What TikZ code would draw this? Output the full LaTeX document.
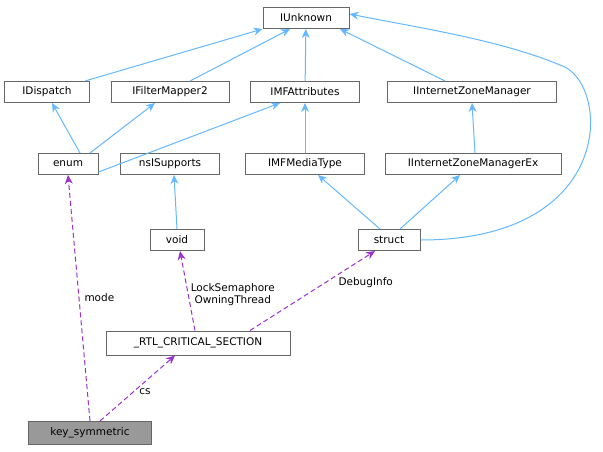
\documentclass[tikz,border=0pt]{standalone}
\usepackage{fontspec}
\setmainfont{DejaVu Sans}
\usetikzlibrary{arrows.meta}
\definecolor{eb}{HTML}{63B8FF}
\definecolor{ep}{HTML}{9A32CD}
\begin{document}
\begin{tikzpicture}[x=1pt,y=-1pt,line width=1pt,
  box/.style={draw=black!60,fill=white,minimum height=21pt,inner sep=0pt,font=\fontsize{10.5}{12}\selectfont},
  inh/.style={draw=eb,-{Stealth[length=9pt,width=8pt]}},
  use/.style={draw=ep,dash pattern=on 5pt off 3pt,-{Stealth[length=9pt,width=8pt]}},
  lab/.style={font=\fontsize{10.5}{12}\selectfont,align=center,inner sep=1pt}]
\useasboundingbox (0,0) rectangle (603,451);
\node[box,minimum width=86pt] (iu) at (306,18) {IUnknown};
\node[box,minimum width=85pt] (idi) at (47,92) {IDispatch};
\node[box,minimum width=118pt] (ifm) at (170,92) {IFilterMapper2};
\node[box,minimum width=109pt] (ima) at (305,92) {IMFAttributes};
\node[box,minimum width=169pt] (izm) at (472,92) {IInternetZoneManager};
\node[box,minimum width=60pt] (en) at (68,164) {enum};
\node[box,minimum width=99pt] (ns) at (170,164) {nsISupports};
\node[box,minimum width=119pt] (imt) at (305,164) {IMFMediaType};
\node[box,minimum width=176pt] (izx) at (473,164) {IInternetZoneManagerEx};
\node[box,minimum width=54pt] (vo) at (177,240) {void};
\node[box,minimum width=62pt] (st) at (389,240) {struct};
\node[box,minimum width=184pt,minimum height=24pt] (rtl) at (198,343) {\_RTL\_CRITICAL\_SECTION};
\node[box,minimum width=123pt,minimum height=23pt,fill=black!40] (ks) at (90,433) {key\_symmetric};
\draw[inh] (idi.north east) ++(-5,0) -- (iu.south west);
\draw[inh] (ifm.north) ++(20,0) -- ([xshift=-16pt]iu.south);
\draw[inh] (ima) -- (iu);
\draw[inh] (izm.north) ++(-27,0) -- ([xshift=34pt]iu.south);
\draw[inh] (st.east) .. controls (620,240) and (610,80) .. (560,65) .. controls (500,40) and (420,28) .. ([yshift=4pt]iu.east);
\draw[inh] ([xshift=12pt]en.north) -- ([xshift=5pt]idi.south);
\draw[inh] ([xshift=22pt]en.north) -- ([xshift=-15pt]ifm.south);
\draw[inh] ([yshift=-8pt]en.east) -- ([xshift=-25pt]ima.south);
\draw[inh] (imt) -- (ima);
\draw[inh] (izx.north) ++(2,0) -- (izm.south);
\draw[inh] (vo.north) -- ([xshift=4pt]ns.south);
\draw[inh] ([xshift=-9pt]st.north) -- ([xshift=13pt]imt.south);
\draw[inh] ([xshift=11pt]st.north) -- ([xshift=-13pt]izx.south);
\draw[use] (ks.north) -- node[lab,pos=0.5,right=4pt]{mode} (en.south);
\draw[use] ([xshift=10pt]ks.north) -- node[lab,pos=0.45,right=4pt]{cs} ([xshift=-23pt]rtl.south);
\draw[use] ([xshift=-3pt]rtl.north) -- node[lab,pos=0.45,right=1pt]{LockSemaphore\\OwningThread} ([xshift=3pt]vo.south);
\draw[use] ([xshift=52pt]rtl.north) -- node[lab,pos=0.6,right=12pt]{DebugInfo} ([xshift=-14pt]st.south);
\end{tikzpicture}
\end{document}
